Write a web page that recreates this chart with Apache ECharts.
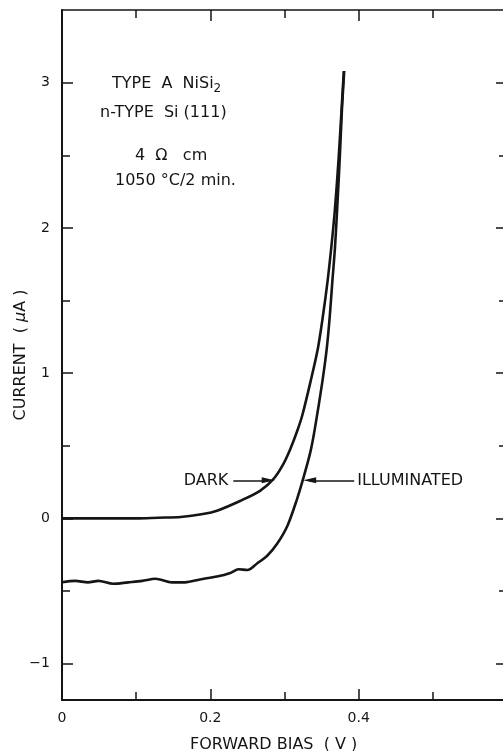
<!DOCTYPE html>
<html>
<head>
<meta charset="utf-8">
<script src="https://cdn.jsdelivr.net/npm/echarts@6/dist/echarts.min.js"></script>
<style>
  html, body { margin: 0; padding: 0; background: #fff; }
  #chart { width: 503px; height: 751px; }
</style>
</head>
<body>
<div id="chart"></div>
<script>
// Forward-bias I–V of a type A NiSi2 / n-Si(111) Schottky diode, dark and illuminated.
const darkBias = [0, 0.05, 0.10, 0.13, 0.16, 0.19, 0.21, 0.24, 0.267, 0.285, 0.298, 0.308, 0.317, 0.324, 0.335, 0.345, 0.352, 0.358, 0.363, 0.368, 0.373, 0.377, 0.380];
const darkCurrent = [0, 0, 0, 0.005, 0.01, 0.03, 0.055, 0.12, 0.19, 0.27, 0.37, 0.48, 0.60, 0.71, 0.94, 1.17, 1.40, 1.63, 1.86, 2.13, 2.48, 2.82, 3.08];

const litBias = [0, 0.018, 0.035, 0.049, 0.069, 0.089, 0.108, 0.126, 0.148, 0.166, 0.186, 0.209, 0.227, 0.238, 0.25, 0.263, 0.277, 0.29, 0.304, 0.317, 0.325, 0.335, 0.341, 0.351, 0.357, 0.361, 0.3645, 0.368, 0.371, 0.3745, 0.3775, 0.3805];
const litCurrent = [-0.44, -0.43, -0.44, -0.43, -0.45, -0.44, -0.43, -0.415, -0.44, -0.44, -0.42, -0.40, -0.375, -0.35, -0.355, -0.31, -0.255, -0.175, -0.05, 0.135, 0.27, 0.46, 0.62, 0.94, 1.17, 1.39, 1.63, 1.86, 2.13, 2.48, 2.82, 3.08];

const currentMajorTicks = [-1, 0, 1, 2, 3];
const currentMinorTicks = [-0.5, 0.5, 1.5, 2.5];

// Arrow annotations (bias, current)
const darkArrow = [[0.231, 0.262], [0.278, 0.262]];
const litArrow = [[0.394, 0.262], [0.334, 0.262]];

const INK = '#151515';
const FONT = 'DejaVu Sans';

const zip = (xs, ys) => xs.map((x, i) => [x, ys[i]]);

const chart = echarts.init(document.getElementById('chart'), null, { renderer: 'canvas' });

const baseY = {
  type: 'value', min: -1.25, max: 3.5,
  splitLine: { show: false },
  axisLine: { onZero: false, lineStyle: { color: INK, width: 2 } }
};
const baseX = {
  type: 'value', min: 0, max: 0.6, interval: 0.2,
  splitLine: { show: false },
  axisLine: { onZero: false, lineStyle: { color: INK, width: 2 } },
  axisTick: { inside: true, length: 11, lineStyle: { color: INK, width: 1.5 } },
  minorTick: { show: true, splitNumber: 2, length: 8, lineStyle: { color: INK, width: 1.5 } }
};

chart.setOption({
  animation: false,
  backgroundColor: '#fff',
  grid: { left: 62, top: 10, width: 445, height: 690, outerBoundsMode: 'none', containLabel: false },
  xAxis: [
    Object.assign({}, baseX, {
      position: 'bottom',
      axisLabel: {
        color: INK, fontFamily: FONT, fontSize: 14, margin: 11, showMaxLabel: false,
        formatter: v => (v === 0 ? '0' : v.toFixed(1))
      }
    }),
    Object.assign({}, baseX, {
      position: 'top',
      axisLine: { onZero: false, lineStyle: { color: INK, width: 1.5 } },
      axisLabel: { show: false }
    })
  ],
  yAxis: [
    Object.assign({}, baseY, {
      position: 'left',
      name: 'CURRENT  ( {it|μ}A )',
      nameLocation: 'middle',
      nameGap: 33,
      nameMoveOverlap: false,
      nameTextStyle: {
        color: INK, fontFamily: FONT, fontSize: 16,
        rich: { it: { fontStyle: 'italic', fontFamily: FONT, fontSize: 16, color: INK } }
      },
      axisTick: { inside: true, length: 11, customValues: currentMajorTicks, lineStyle: { color: INK, width: 1.5 } },
      axisLabel: {
        color: INK, fontFamily: FONT, fontSize: 14, margin: 12,
        customValues: currentMajorTicks,
        formatter: v => (v < 0 ? '−' + Math.abs(v) : String(v))
      }
    }),
    Object.assign({}, baseY, {
      position: 'left',
      axisLine: { show: false, onZero: false },
      axisTick: { inside: true, length: 8, customValues: currentMinorTicks, lineStyle: { color: INK, width: 1.5 } },
      axisLabel: { show: false }
    }),
    Object.assign({}, baseY, {
      position: 'right',
      axisTick: { inside: true, length: 11, customValues: currentMajorTicks, lineStyle: { color: INK, width: 1.5 } },
      axisLabel: { show: false }
    }),
    Object.assign({}, baseY, {
      position: 'right',
      axisLine: { show: false, onZero: false },
      axisTick: { inside: true, length: 8, customValues: currentMinorTicks, lineStyle: { color: INK, width: 1.5 } },
      axisLabel: { show: false }
    })
  ],
  series: [
    {
      name: 'DARK', type: 'line', xAxisIndex: 0, yAxisIndex: 0,
      data: zip(darkBias, darkCurrent),
      showSymbol: false, smooth: 0.3,
      lineStyle: { color: INK, width: 2.6 },
      markLine: {
        silent: true, symbol: ['none', 'triangle'], symbolSize: [6, 13],
        lineStyle: { color: INK, width: 1.5, type: 'solid' },
        label: {
          show: true, position: 'start', distance: 5, formatter: 'DARK',
          color: INK, fontFamily: FONT, fontSize: 16
        },
        data: [[{ coord: darkArrow[0] }, { coord: darkArrow[1] }]]
      }
    },
    {
      name: 'ILLUMINATED', type: 'line', xAxisIndex: 0, yAxisIndex: 0,
      data: zip(litBias, litCurrent),
      showSymbol: false, smooth: 0.3,
      lineStyle: { color: INK, width: 2.6 },
      markLine: {
        silent: true, symbol: ['none', 'triangle'], symbolSize: [6, 13],
        lineStyle: { color: INK, width: 1.5, type: 'solid' },
        label: {
          show: true, position: 'start', distance: 3, formatter: 'ILLUMINATED',
          color: INK, fontFamily: FONT, fontSize: 16
        },
        data: [[{ coord: litArrow[0] }, { coord: litArrow[1] }]]
      }
    }
  ],
  graphic: [
    {
      type: 'text', left: 112, top: 76,
      style: {
        text: 'TYPE  A  NiSi{sub|2}', fill: INK, font: '16px "DejaVu Sans"',
        rich: { sub: { fontSize: 12, fontFamily: FONT, fill: INK, padding: [9, 0, 0, 0] } }
      }
    },
    { type: 'text', left: 100, top: 105, style: { text: 'n-TYPE  Si (111)', fill: INK, font: '16px "DejaVu Sans"' } },
    { type: 'text', left: 135, top: 148, style: { text: '4  Ω   cm', fill: INK, font: '16px "DejaVu Sans"' } },
    { type: 'text', left: 115, top: 173, style: { text: '1050 °C/2 min.', fill: INK, font: '16px "DejaVu Sans"' } },
    { type: 'text', left: 190, top: 737, style: { text: 'FORWARD BIAS  ( V )', fill: INK, font: '16px "DejaVu Sans"' } }
  ]
});
</script>
</body>
</html>
